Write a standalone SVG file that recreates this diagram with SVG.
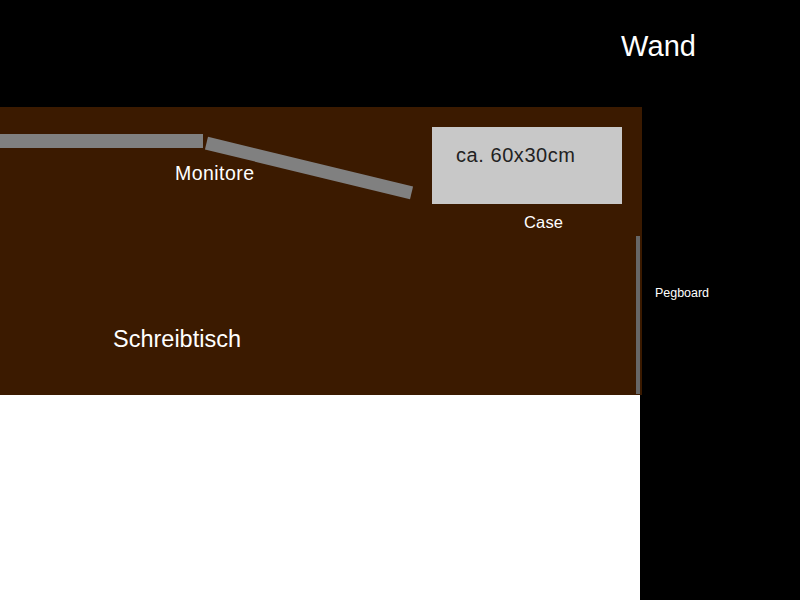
<svg xmlns="http://www.w3.org/2000/svg" width="800" height="600" viewBox="0 0 800 600">
<style>
text{font-family:"Liberation Sans",Arial,sans-serif;fill:#fff}
.mon{fill:#808080}
</style>
<rect x="0" y="0" width="800" height="600" fill="#fff"/>
<g id="wand">
<rect x="0" y="0" width="800" height="107" fill="#000"/>
<rect x="640" y="0" width="160" height="600" fill="#000"/>
<text x="621" y="56" font-size="29" textLength="75">Wand</text>
</g>
<g id="schreibtisch">
<rect x="0" y="107" width="642" height="288" fill="#3b1a00"/>
<text x="113" y="347" font-size="23.5" textLength="128">Schreibtisch</text>
</g>
<g id="monitore">
<rect class="mon" x="0" y="134" width="203" height="14"/>
<rect class="mon" x="-105.5" y="-6.5" width="211" height="13" transform="translate(309 168) rotate(13.6)"/>
<text x="175" y="180" font-size="19.5" textLength="79">Monitore</text>
</g>
<g id="case">
<rect x="432" y="127" width="190" height="77" fill="#c8c8c8"/>
<text x="456" y="162" font-size="20" textLength="119" style="fill:#222">ca. 60x30cm</text>
<text x="524" y="228" font-size="16.5" textLength="39">Case</text>
</g>
<g id="pegboard">
<rect x="636" y="236" width="4" height="158" fill="#666"/>
<text x="655" y="297" font-size="12.5" textLength="54">Pegboard</text>
</g>
</svg>
